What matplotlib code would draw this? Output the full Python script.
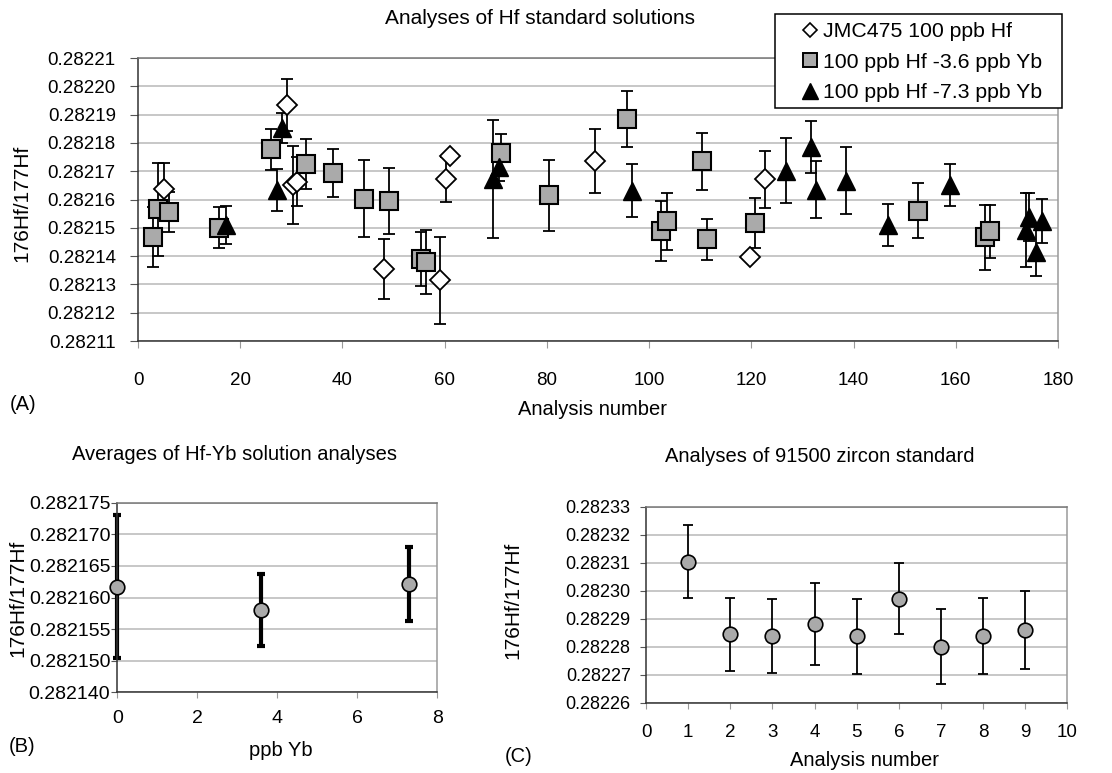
import matplotlib
matplotlib.use("Agg")
import matplotlib.pyplot as plt
from matplotlib.lines import Line2D
from matplotlib.patches import Rectangle
import numpy as np

plt.rcParams['font.family'] = ['Liberation Sans', 'DejaVu Sans']

# ---------------- Data ----------------
# (A) Hf standard solutions
jmc_x = [5.0, 29.2, 30.3, 31.1, 48.1, 59.1, 60.2, 61.0, 89.5, 119.7, 122.6]
jmc_y = [0.2821636, 0.2821934, 0.2821652, 0.2821663, 0.2821353, 0.2821314,
         0.2821671, 0.2821755, 0.2821735, 0.2821396, 0.2821671]
jmc_err = [0.94e-5, 0.91e-5, 1.37e-5, 0.86e-5, 1.06e-5, 1.54e-5,
           0.79e-5, 0.0, 1.13e-5, 0.0, 1.02e-5]

yb36_x = [2.9, 4.0, 6.1, 15.9, 26.0, 32.9, 38.1, 44.2, 49.1, 55.3, 56.3,
          71.1, 80.5, 95.6, 102.4, 103.5, 110.3, 111.3, 120.7, 152.7, 165.7, 166.7]
yb36_y = [0.2821469, 0.2821565, 0.2821557, 0.2821500, 0.2821777, 0.2821725,
          0.2821695, 0.2821603, 0.2821595, 0.2821390, 0.2821379, 0.2821763,
          0.2821615, 0.2821884, 0.2821488, 0.2821523, 0.2821735, 0.2821459,
          0.2821516, 0.2821560, 0.2821466, 0.2821488]
yb36_err = [1.06e-5, 1.65e-5, 0.71e-5, 0.72e-5, 0.71e-5, 0.89e-5, 0.85e-5,
            1.37e-5, 1.18e-5, 0.96e-5, 1.13e-5, 0.68e-5, 1.25e-5, 1.00e-5,
            1.07e-5, 1.01e-5, 1.01e-5, 0.72e-5, 0.88e-5, 0.97e-5, 1.15e-5, 0.93e-5]

yb73_x = [17.2, 27.1, 28.2, 69.5, 70.6, 96.6, 126.7, 131.6, 132.7, 138.6,
          146.8, 158.9, 173.7, 174.3, 175.7, 176.9]
yb73_y = [0.2821510, 0.2821634, 0.2821852, 0.2821672, 0.2821716, 0.2821631,
          0.2821702, 0.2821786, 0.2821635, 0.2821667, 0.2821510, 0.2821652,
          0.2821492, 0.2821539, 0.2821416, 0.2821524]
yb73_err = [0.68e-5, 0.74e-5, 0.53e-5, 2.09e-5, 0.50e-5, 0.94e-5, 1.14e-5,
            0.93e-5, 1.01e-5, 1.19e-5, 0.74e-5, 0.74e-5, 1.31e-5, 0.85e-5,
            0.86e-5, 0.77e-5]

a_xticks = [0, 20, 40, 60, 80, 100, 120, 140, 160, 180]
a_yticks = [0.28211, 0.28212, 0.28213, 0.28214, 0.28215, 0.28216, 0.28217,
            0.28218, 0.28219, 0.28220, 0.28221]
legend_labels = ['JMC475 100 ppb Hf', '100 ppb Hf -3.6 ppb Yb', '100 ppb Hf -7.3 ppb Yb']

# (B) Averages of Hf-Yb solution analyses
b_x = [0.0, 3.6, 7.3]
b_y = [0.2821617, 0.2821580, 0.2821621]
b_err = [1.134e-5, 0.567e-5, 0.585e-5]
b_xticks = [0, 2, 4, 6, 8]
b_yticks = [0.282145, 0.282150, 0.282155, 0.282160, 0.282165, 0.282170, 0.282175]
b_yticklabels = ['0.282140', '0.282150', '0.282155', '0.282160',
                 '0.282165', '0.282170', '0.282175']

# (C) Analyses of 91500 zircon standard
c_x = [1, 2, 3, 4, 5, 6, 7, 8, 9]
c_y = [0.2823104, 0.2822844, 0.2822838, 0.2822880, 0.2822838, 0.2822971,
       0.2822800, 0.2822838, 0.2822859]
c_err = [1.29e-5, 1.31e-5, 1.31e-5, 1.46e-5, 1.34e-5, 1.27e-5, 1.33e-5,
         1.36e-5, 1.39e-5]
c_xticks = list(range(0, 11))
c_yticks = [0.28226, 0.28227, 0.28228, 0.28229, 0.28230, 0.28231, 0.28232, 0.28233]

# ---------------- Figure ----------------
W, H = 1112, 773
fig = plt.figure(figsize=(W / 100, H / 100), dpi=100)
fig.patch.set_facecolor('white')


def px_axes(l, t, r, b):
    return fig.add_axes([l / W, 1 - b / H, (r - l) / W, (b - t) / H])


def ftxt(x, y, s, **kw):
    kw.setdefault('ha', 'center')
    kw.setdefault('va', 'center')
    fig.text(x / W, 1 - y / H, s, **kw)


GRID = '#b8b8b8'
SQFILL = '#aaaaaa'


def style_axes(ax):
    ax.grid(axis='y', color=GRID, lw=1.1, zorder=0)
    ax.set_axisbelow(True)
    ax.spines['left'].set_color('#333333')
    ax.spines['bottom'].set_color('#333333')
    ax.spines['top'].set_color('#777777')
    ax.spines['right'].set_color('#9a9a9a')
    for s in ax.spines.values():
        s.set_linewidth(1.1)


def unclip(container):
    for part in container.lines:
        if part is None:
            continue
        if isinstance(part, (tuple, list)):
            for p in part:
                p.set_clip_on(False)
        else:
            part.set_clip_on(False)


# ---- (A) ----
axA = px_axes(138, 58, 1058, 341)
style_axes(axA)
ekw = dict(fmt='none', ecolor='black', elinewidth=1.3, capsize=4.5, capthick=1.3, zorder=2)
axA.errorbar(jmc_x, jmc_y, yerr=jmc_err, **ekw)
axA.errorbar(yb36_x, yb36_y, yerr=yb36_err, **ekw)
axA.errorbar(yb73_x, yb73_y, yerr=yb73_err, **ekw)
axA.plot(jmc_x, jmc_y, ls='none', marker='D', ms=10, mfc='white', mec='black', mew=1.3, zorder=3)
axA.plot(yb36_x, yb36_y, ls='none', marker='s', ms=13, mfc=SQFILL, mec='black', mew=1.5, zorder=3)
axA.plot(yb73_x, yb73_y, ls='none', marker='^', ms=13, mfc='black', mec='black', mew=1, zorder=3)
axA.set_xlim(0, 180)
axA.set_ylim(0.28211, 0.28221)
axA.set_xticks(a_xticks)
axA.set_xticklabels([str(v) for v in a_xticks])
axA.set_yticks(a_yticks)
axA.set_yticklabels([f'{v:.5f}' for v in a_yticks])
axA.tick_params(axis='y', length=6, pad=10, labelsize=13.5, color='#555555')
axA.tick_params(axis='x', length=5, pad=17, labelsize=13.5, color='#999999')

ftxt(540, 18, 'Analyses of Hf standard solutions', fontsize=15)
ftxt(592, 410, 'Analysis number', fontsize=14.5)
ftxt(23, 405, '(A)', fontsize=14.5)
ftxt(22, 203, '176Hf/177Hf', fontsize=15, rotation=90)

# legend box
box = Rectangle((775 / W, 1 - 108 / H), (1062 - 775) / W, (108 - 14) / H,
                transform=fig.transFigure, facecolor='white', edgecolor='black',
                lw=1.1, zorder=4)
fig.patches.append(box)
handles = [
    Line2D([], [], ls='none', marker='D', ms=7, mfc='white', mec='black', mew=1.2),
    Line2D([], [], ls='none', marker='s', ms=10.5, mfc=SQFILL, mec='black', mew=1.4),
    Line2D([], [], ls='none', marker='^', ms=11, mfc='black', mec='black'),
]
leg = fig.legend(handles, legend_labels, loc='upper left',
                 bbox_to_anchor=(799.5 / W, 1 - 22 / H), bbox_transform=fig.transFigure,
                 borderaxespad=0, borderpad=0, fontsize=15.3, frameon=False,
                 handlelength=1.0, handletextpad=0.11, labelspacing=0.55)
leg.set_zorder(5)

# ---- (B) ----
axB = px_axes(117.3, 502.7, 437.3, 692.3)
style_axes(axB)
eb = axB.errorbar(b_x, b_y, yerr=b_err, fmt='none', ecolor='black', elinewidth=3,
                  capsize=3, capthick=3, zorder=2)
unclip(eb)
axB.plot(b_x, b_y, ls='none', marker='o', ms=10.5, mfc='#aaaaaa', mec='black', mew=1.2,
         zorder=3, clip_on=False)
axB.set_xlim(0, 8)
axB.set_ylim(0.282145, 0.282175)
axB.set_xticks(b_xticks)
axB.set_xticklabels([str(v) for v in b_xticks])
axB.set_yticks(b_yticks)
axB.set_yticklabels(b_yticklabels)
axB.tick_params(axis='y', length=4, pad=1, labelsize=14, color='#555555')
axB.tick_params(axis='x', length=4, pad=8.5, labelsize=14, color='#999999')
ftxt(234, 455, 'Averages of Hf-Yb solution analyses', fontsize=14.5)
ftxt(281, 750, 'ppb Yb', fontsize=14.5)
ftxt(22, 747, '(B)', fontsize=14.5)
ftxt(18, 598, '176Hf/177Hf', fontsize=15, rotation=90)

# ---- (C) ----
axC = px_axes(646, 506.7, 1067.3, 702.7)
style_axes(axC)
axC.errorbar(c_x, c_y, yerr=c_err, fmt='none', ecolor='black', elinewidth=1.3,
             capsize=3.5, capthick=1.3, zorder=2)
axC.plot(c_x, c_y, ls='none', marker='o', ms=10.5, mfc='#aaaaaa', mec='black', mew=1.2,
         zorder=3)
axC.set_xlim(0, 10)
axC.set_ylim(0.28226, 0.28233)
axC.set_xticks(c_xticks)
axC.set_xticklabels([str(v) for v in c_xticks])
axC.set_yticks(c_yticks)
axC.set_yticklabels([f'{v:.5f}' for v in c_yticks])
axC.tick_params(axis='y', length=4, pad=7, labelsize=13, color='#555555')
axC.tick_params(axis='x', length=4, pad=11.5, labelsize=13.5, color='#999999')
ftxt(820, 457, 'Analyses of 91500 zircon standard', fontsize=14.5)
ftxt(864, 761, 'Analysis number', fontsize=14.5)
ftxt(519, 757, '(C)', fontsize=14.5)
ftxt(513, 600, '176Hf/177Hf', fontsize=15, rotation=90)

fig.savefig('out.png', dpi=100, facecolor='white')
